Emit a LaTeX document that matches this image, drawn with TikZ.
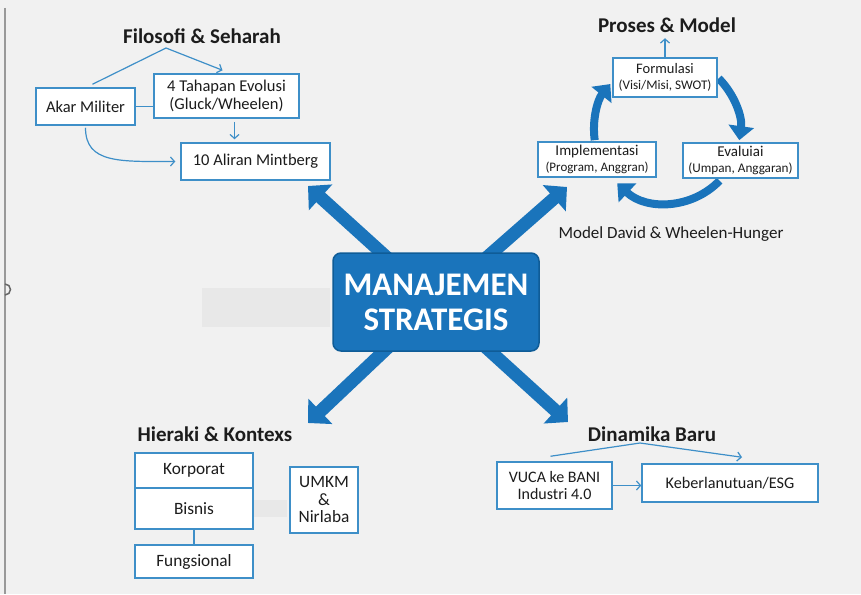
\documentclass[tikz,border=0pt]{standalone}
\usepackage{fontspec}
\setmainfont{Carlito}
\usetikzlibrary{arrows.meta, calc}

\definecolor{bg}{HTML}{F1F1F1}
\definecolor{msblue}{HTML}{1A74BB}
\definecolor{msdark}{HTML}{0F5C97}
\definecolor{lineblue}{HTML}{3E8FC8}
\definecolor{ink}{HTML}{1C1C1C}

\tikzset{
  box/.style={draw=lineblue, line width=1.5pt, fill=white, text=ink, align=center,
    inner sep=0pt, font=\fontsize{16.5}{18}\selectfont},
  title/.style={text=ink, font=\bfseries\fontsize{21}{24}\selectfont},
  link/.style={draw=lineblue, line width=1.2pt, -{Straight Barb[length=4pt,width=9pt]}},
  bigarrow/.style={draw=msblue, line width=13pt, -{Triangle[length=17pt,width=34pt]}},
  cycarrow/.style={draw=msblue, line width=8pt, -{Triangle[length=14pt,width=25pt]}}
}

\begin{document}
\begin{tikzpicture}[x=1pt,y=-1pt]
    \useasboundingbox (0,0) rectangle (861,594);
    \fill[bg] (0,0) rectangle (861,594);
    \fill[black!9] (202,288) rectangle (330,327);
    \fill[black!9] (253,500) rectangle (287,517);
    \draw[black!40, line width=1.5pt] (5,8) -- (5,594);
    \draw[black!60, line width=1.5pt] (5,284) arc[start angle=-90, end angle=90, radius=5.5];

    % centre and the four big arrows
    \coordinate (mid) at (436,302);
    \draw[bigarrow] (mid) -- (308,186);
    \draw[bigarrow] (mid) -- (567,187);
    \draw[bigarrow] (mid) -- (308,423);
    \draw[bigarrow] (mid) -- (568,422);
    \node[draw=msdark, line width=1.5pt, fill=msblue, rounded corners=8pt, text=white,
      align=center, minimum width=206pt, minimum height=98pt,
      font=\bfseries\fontsize{33}{35}\selectfont] (ms) at (mid) {MANAJEMEN\\STRATEGIS};

    % Filosofi & Seharah
    \node[title] (t1) at (202,36) {Filosofi \& Seharah};
    \node[box, minimum width=99pt, minimum height=37pt] (akar) at (85.5,106.5) {Akar Militer};
    \node[box, minimum width=145pt, minimum height=44pt, font=\fontsize{16.5}{17.5}\selectfont] (tahapan) at (226.5,96) {4 Tahapan Evolusi\\(Gluck/Wheelen)};
    \node[box, minimum width=149pt, minimum height=37pt] (aliran) at (255.5,161.5) {10 Aliran Mintberg};
    \coordinate (apex1) at (166,48);
    \draw[link] ([xshift=7pt,yshift=3pt]akar.north) -- (apex1) -- ([xshift=-4pt,yshift=3pt]tahapan.north);
    \draw[lineblue, line width=1.2pt] (akar.east) -- (akar.east -| tahapan.west);
    \draw[link] ([xshift=8pt,yshift=-3pt]tahapan.south) -- ([xshift=8pt,yshift=3pt]tahapan.south |- aliran.north);
    \draw[link] ([yshift=-2pt]akar.south) .. controls +(0,36) and +(-55,0) .. ([xshift=-5pt]aliran.west);

    % Proses & Model
    \node[title] (t2) at (667,25) {Proses \& Model};
    \coordinate (cyc) at (667,130);
    \draw[cycarrow] (cyc) ++(-45:73) arc[start angle=-45, end angle=8, radius=73];
    \draw[cycarrow] (cyc) ++(44:73) arc[start angle=44, end angle=133, radius=73];
    \draw[cycarrow] (cyc) ++(172:73) arc[start angle=172, end angle=219, radius=73];
    \node[box, minimum width=104pt, minimum height=39pt, font=\fontsize{14.5}{15.5}\selectfont] (formulasi) at (665,77.5)
      {Formulasi\\{\fontsize{13.2}{15.5}\selectfont(Visi/Misi, SWOT)}};
    \node[box, minimum width=118pt, minimum height=35pt, font=\fontsize{15}{15.5}\selectfont] (implementasi) at (597,159.5)
      {Implementasi\\{\fontsize{13}{15.5}\selectfont(Program, Anggran)}};
    \node[box, minimum width=115pt, minimum height=35pt, font=\fontsize{15}{15.5}\selectfont] (evaluiai) at (740.5,160.5)
      {Evaluiai\\{\fontsize{13.2}{15.5}\selectfont(Umpan, Anggaran)}};
    \draw[link] (formulasi.north) -- ++(0,-19);
    \node[text=ink, font=\fontsize{17}{19}\selectfont] (model) at (671,234) {Model David \& Wheelen-Hunger};

    % Hieraki & Kontexs
    \node[title] (t3) at (215,434) {Hieraki \& Kontexs};
    \node[box, minimum width=118pt, minimum height=35pt, font=\fontsize{17.3}{19}\selectfont] (korporat) at (194,470.5) {Korporat};
    \node[box, minimum width=118pt, minimum height=41pt, font=\fontsize{17.3}{19}\selectfont] (bisnis) at (194,508.5) {Bisnis};
    \node[box, minimum width=118pt, minimum height=33pt, font=\fontsize{17.3}{19}\selectfont] (fungsional) at (194,561.5) {Fungsional};
    \draw[lineblue, line width=1.5pt] (bisnis.south) -- (fungsional.north);
    \node[box, minimum width=68pt, minimum height=66pt, font=\fontsize{17.3}{17.5}\selectfont] (umkm) at (324,500) {UMKM\\\&\\Nirlaba};

    % Dinamika Baru
    \node[title] (t4) at (652,434) {Dinamika Baru};
    \node[box, minimum width=115pt, minimum height=47pt, font=\fontsize{16}{16.5}\selectfont] (vuca) at (554.5,485.5) {VUCA ke BANI\\Industri 4.0};
    \node[box, minimum width=176pt, minimum height=38pt, font=\fontsize{16.2}{18}\selectfont] (keb) at (730,483) {Keberlanutuan/ESG};
    \coordinate (apex2) at (640,443);
    \draw[link] ([xshift=-4pt,yshift=5pt]vuca.north) -- (apex2) -- ([xshift=12pt,yshift=6pt]keb.north);
    \draw[link] (vuca.east) -- (vuca.east -| keb.west);
\end{tikzpicture}
\end{document}
